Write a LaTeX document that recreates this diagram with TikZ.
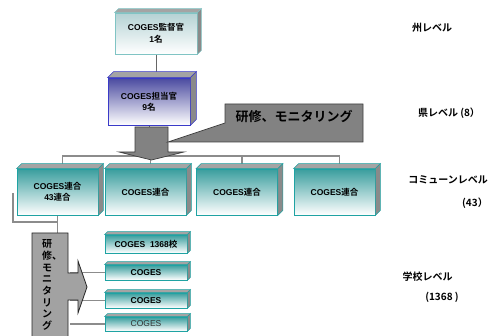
\documentclass[tikz,border=0pt]{standalone}
\usepackage{fontspec}
\setmainfont{Liberation Sans}
\newfontfamily\jp{Noto Sans CJK JP}[BoldFont={Noto Sans CJK JP Bold}]
\pgfdeclarelayer{bg}
\pgfsetlayers{bg,main}
\definecolor{bonetop}{HTML}{B4D2D4}
\definecolor{boneborder}{HTML}{80C4C4}
\definecolor{btwotop}{HTML}{4A4AA0}
\definecolor{btwoborder}{HTML}{3A3AC8}
\definecolor{tealtop}{HTML}{3A9E9E}
\definecolor{tealborder}{HTML}{1FA3A3}
\definecolor{linegray}{HTML}{8C8C8C}
\definecolor{facegray}{HTML}{A4A4A4}
\definecolor{sidegray}{HTML}{8A8A8A}
\definecolor{arrowgray}{HTML}{828282}
\definecolor{varrowgray}{HTML}{A2A2A2}
\newcommand\mkfaces[3]{%
  \filldraw[fill=facegray,draw=#3,line width=0.5pt] (#1.north west) -- ++(#2,-#2) -- ([shift={(#2,-#2)}]#1.north east) -- (#1.north east) -- cycle;
  \filldraw[fill=sidegray,draw=#3,line width=0.5pt] (#1.north east) -- ++(#2,-#2) -- ([shift={(#2,-#2)}]#1.south east) -- (#1.south east) -- cycle;}
\begin{document}
\begin{tikzpicture}[x=1pt,y=-1pt,
  box/.style={draw, line width=0.8pt, inner sep=0pt, align=center,
    font=\bfseries\fontsize{8.5}{11}\selectfont, minimum width=82pt},
  conn/.style={draw=linegray, line width=1.3pt},
  thinconn/.style={draw=black!60, line width=0.8pt},
  lbl/.style={font=\jp\bfseries\fontsize{10}{12}\selectfont, inner sep=0pt},
  bigarrow/.style={fill=arrowgray, draw=black!75, line width=0.7pt},
  varrow/.style={fill=varrowgray, draw=black!85, line width=0.8pt},
]
\useasboundingbox (0,0) rectangle (493,336);
\begin{pgfonlayer}{bg}
  \fill[white] (0,0) rectangle (493,336);
\end{pgfonlayer}

% top levels
\node[box, draw=boneborder, top color=bonetop, bottom color=white, minimum height=41pt, font=\bfseries\fontsize{8.5}{12.5}\selectfont] (b1) at (156,33.5) {COGES{\jp 監督官}\\1{\jp 名}};
\mkfaces{b1}{4}{boneborder}
\node[box, draw=btwoborder, top color=btwotop, bottom color=white, minimum height=47pt] (b2) at (149,101.5) {COGES{\jp 担当官}\\9{\jp 名}};
\mkfaces{b2}{6}{btwoborder}

% commune level
\foreach \n/\x in {c1/57.5,c2/145.5,c3/237,c4/334.5}{
  \node[box, draw=tealborder, top color=tealtop, bottom color=white, minimum height=46pt, minimum width=81pt] (\n) at (\x,192) {};
}
\node[font=\bfseries\fontsize{8.5}{10.5}\selectfont, align=center, inner sep=0pt] (c1t) at (c1.center) {COGES{\jp 連合}\\43{\jp 連合}};
\node[font=\bfseries\fontsize{8.5}{10.5}\selectfont, inner sep=0pt] (c2t) at (c2.center) {COGES{\jp 連合}};
\node[font=\bfseries\fontsize{8.5}{10.5}\selectfont, inner sep=0pt] (c3t) at (c3.center) {COGES{\jp 連合}};
\node[font=\bfseries\fontsize{8.5}{10.5}\selectfont, inner sep=0pt] (c4t) at (c4.center) {COGES{\jp 連合}};
\foreach \n in {c1,c2,c3,c4}{\mkfaces{\n}{5}{tealborder}}

% school level
\node[box, draw=tealborder, top color=tealtop, middle color=white, bottom color=white, minimum height=18pt] (sA) at (146,244) {COGES\ \ 1368{\jp 校}};
\node[box, draw=tealborder, top color=tealtop, middle color=white, bottom color=white, minimum height=15pt] (sB) at (146,272.5) {COGES};
\node[box, draw=tealborder, top color=tealtop, middle color=white, bottom color=white, minimum height=15pt] (sC) at (146,300.5) {COGES};
\node[box, draw=tealborder, top color=tealtop, middle color=white, bottom color=white, minimum height=14pt, font=\fontsize{8.5}{11}\selectfont, text=black!80] (sD) at (146,324) {COGES};
\foreach \n in {sA,sB,sC,sD}{\mkfaces{\n}{3}{tealborder}}

% coordinates
\coordinate (arrowtop) at (151.5,127);
\coordinate (bar) at (0,156);
\coordinate (loopend) at (13,193);
\coordinate (loopcorner) at (13,222);
\coordinate (vtop) at (50,233);
\coordinate (vs) at (70,0);

% connectors (behind)
\begin{pgfonlayer}{bg}
  \draw[thinconn] (b1.south) -- (b1.south |- b2.north);
  \draw[thinconn] (b2.south) -- (b2.south |- arrowtop);
  \draw[conn] ([xshift=5pt]c1.north) -- ([xshift=5pt]c1.north |- bar) -- ([xshift=5pt]c4.north |- bar) -- ([xshift=5pt]c4.north);
  \draw[conn] ([xshift=5pt]c2.north) -- ([xshift=5pt]c2.north |- bar);
  \draw[conn] ([xshift=5pt]c3.north) -- ([xshift=5pt]c3.north |- bar);
  \draw[conn] (loopend) -- (loopcorner) -- (loopcorner -| c1.south);
  \draw[conn] (c1.south) -- (c1.south |- vtop);
  \draw[conn, line width=1.1pt] (sB.west) -- (sB.west -| vs);
  \draw[conn, line width=1.1pt] (sC.west) -- (sC.west -| vs);
  \draw[conn, line width=1.1pt] (sD.west) -- (sD.west -| vs);
\end{pgfonlayer}

% big down arrow
\filldraw[bigarrow] (135,127) -- (168,127) -- (168,152) -- (184,152) -- (151.5,160) -- (119,152) -- (135,152) -- cycle;
% callout
\filldraw[bigarrow] (225,104) -- (363,104) -- (363,142) -- (168,142) -- (225,123) -- cycle;
\node[font=\jp\bfseries\fontsize{13}{15}\selectfont, inner sep=0pt] (callout) at (294,117) {研修、モニタリング};

% vertical arrow
\filldraw[varrow] (32,233) -- (68,233) -- (68,273) -- (78,273) -- (78,261) -- (87,287) -- (78,313) -- (78,300) -- (68,300) -- (68,338) -- (32,338) -- cycle;
\node[font=\jp\bfseries\fontsize{10}{11.7}\selectfont, align=center, inner sep=0pt] (vtext) at (47,285) {研\\修\rlap{、}\\モ\\ニ\\タ\\リ\\ン\\グ};

% level labels
\node[lbl] (l1) at (432,28) {州レベル};
\node[lbl] (l2) at (449,113) {県レベル (8）};
\node[lbl] (l3) at (448,180) {コミューンレベル};
\node[lbl] (l3n) at (475,203) {(43）};
\node[lbl] (l4) at (427.5,277) {学校レベル};
\node[lbl] (l4n) at (442,297) {(1368 )};
\end{tikzpicture}
\end{document}
